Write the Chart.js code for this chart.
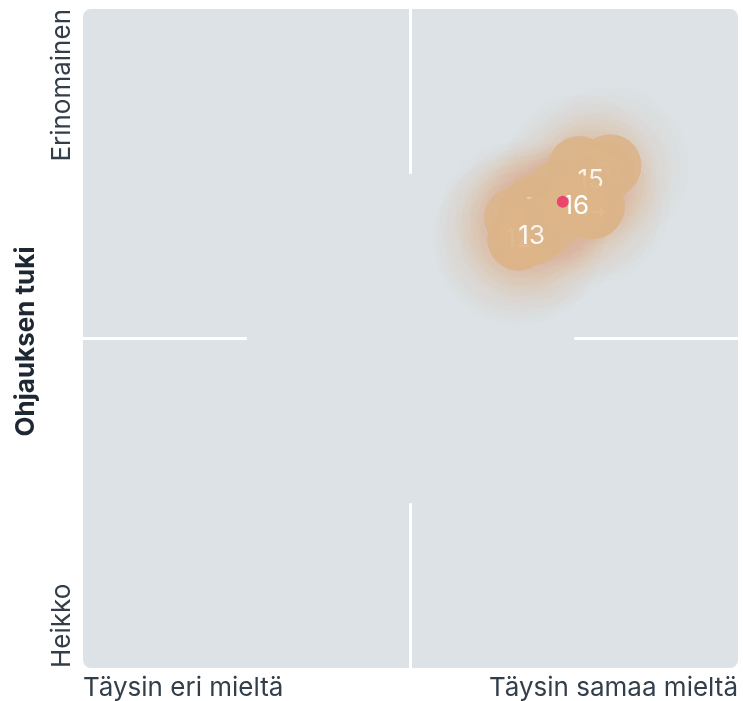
<!DOCTYPE html>
<html>
<head>
<meta charset="utf-8">
<script src="https://cdn.jsdelivr.net/npm/chart.js@4.4.1/dist/chart.umd.min.js"></script>
<style>
  html, body { margin: 0; padding: 0; background: #ffffff; }
  #wrap { width: 743px; height: 701px; }
</style>
</head>
<body>
<div id="wrap"><canvas id="chart"></canvas></div>
<script>
// axis texts
const xTickLabels = ["Täysin eri mieltä", "Täysin samaa mieltä"];
const yTickLabels = ["Heikko", "Erinomainen"];
const yTitle = "Ohjauksen tuki";
const scaleMin = 1;
const scaleMax = 5;

// bubbles (drawn in this order, last on top)
const bubbleLabels = ["1", "2", "3", "4", "5", "6", "7", "8", "9", "10", "11", "12", "13", "14", "15", "16"];
const bubbleX = [3.64, 3.66, 3.72, 4.22, 3.83, 3.90, 3.75, 4.03, 4.18, 4.12, 3.81, 3.66, 3.74, 4.11, 4.10, 4.01];
const bubbleY = [3.73, 3.60, 3.76, 4.05, 3.76, 3.89, 3.80, 4.04, 4.01, 3.80, 3.68, 3.61, 3.63, 3.79, 3.97, 3.81];
const bubbleSpread = [0.46, 0.52, 0.44, 0.48, 0.40, 0.42, 0.38, 0.44, 0.40, 0.46, 0.50, 0.50, 0.44, 0.42, 0.40, 0.38];

// group average
const meanX = [3.93];
const meanY = [3.83];

const textColor = "#333e4b";
const fontFamily = "Inter, 'Noto Sans', sans-serif";

const datasets = bubbleLabels.map((lab, i) => ({
    type: "bubble",
    label: lab,
    data: [{ x: bubbleX[i], y: bubbleY[i] }],
    spread: bubbleSpread[i],
    radius: 31,
    backgroundColor: "rgba(222, 181, 137, 0.93)",
    borderWidth: 0,
    order: bubbleLabels.length - i + 1,
}));

datasets.push({
    type: "scatter",
    label: "Keskiarvo",
    data: meanX.map((x, i) => ({ x: x, y: meanY[i] })),
    pointRadius: 6,
    backgroundColor: "#e9466d",
    borderWidth: 0,
    order: 0,
});

// rounded panel + partial white cross
const panelPlugin = {
    id: "panel",
    beforeDatasetsDraw(chart) {
        const { ctx, chartArea: a } = chart;
        ctx.save();
        ctx.fillStyle = "#dce2e5";
        ctx.beginPath();
        ctx.roundRect(a.left, a.top, a.right - a.left, a.bottom - a.top, 8);
        ctx.fill();

        const mid = (scaleMin + scaleMax) / 2;
        const cx = chart.scales.x.getPixelForValue(mid);
        const cy = chart.scales.y.getPixelForValue(mid);
        const qw = (a.right - a.left) / 4;
        const qh = (a.bottom - a.top) / 4;
        ctx.strokeStyle = "#ffffff";
        ctx.lineWidth = 3;
        ctx.beginPath();
        ctx.moveTo(cx, a.top);
        ctx.lineTo(cx, a.top + qh);
        ctx.moveTo(cx, a.bottom - qh);
        ctx.lineTo(cx, a.bottom);
        ctx.moveTo(a.left, cy);
        ctx.lineTo(a.left + qw, cy);
        ctx.moveTo(a.right - qw, cy);
        ctx.lineTo(a.right, cy);
        ctx.stroke();
        ctx.restore();
    },
};

// soft halo behind each bubble and its number on top
const bubblePlugin = {
    id: "bubbleHalo",
    beforeDatasetDraw(chart, args) {
        const ds = chart.data.datasets[args.index];
        if (ds.spread === undefined) return;
        const el = args.meta.data[0];
        const xs = chart.scales.x;
        const outer = Math.abs(xs.getPixelForValue(ds.data[0].x + ds.spread) - xs.getPixelForValue(ds.data[0].x));
        const inner = el.options.radius;
        const ctx = chart.ctx;
        ctx.save();
        ctx.fillStyle = "rgba(222, 180, 138, 0.028)";
        for (let k = 1; k <= 6; k++) {
            const rr = inner + (outer - inner) * k / 6;
            ctx.beginPath();
            ctx.arc(el.x, el.y, rr, 0, Math.PI * 2);
            ctx.fill();
        }
        ctx.restore();
    },
    afterDatasetDraw(chart, args) {
        const ds = chart.data.datasets[args.index];
        if (ds.spread === undefined) return;
        const el = args.meta.data[0];
        const ctx = chart.ctx;
        ctx.save();
        ctx.fillStyle = "#ffffff";
        ctx.font = "26px " + fontFamily;
        ctx.textAlign = "center";
        ctx.textBaseline = "middle";
        ctx.fillText(ds.label, el.x, el.y + 1);
        ctx.restore();
    },
};

// rotated y labels and title
const yTextPlugin = {
    id: "yText",
    afterDraw(chart) {
        const { ctx, chartArea: a } = chart;
        const ys = chart.scales.y;
        const yLow = ys.getPixelForValue(scaleMin);
        const yHigh = ys.getPixelForValue(scaleMax);
        ctx.save();
        ctx.fillStyle = textColor;
        ctx.textBaseline = "middle";
        ctx.font = "26px " + fontFamily;

        ctx.save();
        ctx.translate(62, yLow);
        ctx.rotate(-Math.PI / 2);
        ctx.textAlign = "left";
        ctx.fillText(yTickLabels[0], 0, 0);
        ctx.restore();

        ctx.save();
        ctx.translate(62, yHigh);
        ctx.rotate(-Math.PI / 2);
        ctx.textAlign = "right";
        ctx.fillText(yTickLabels[1], 0, 0);
        ctx.restore();

        ctx.save();
        ctx.fillStyle = "#1e2833";
        ctx.font = "bold 26px " + fontFamily;
        ctx.translate(26, (a.top + a.bottom) / 2 + 3);
        ctx.rotate(-Math.PI / 2);
        ctx.textAlign = "center";
        ctx.fillText(yTitle, 0, 0);
        ctx.restore();

        ctx.restore();
    },
};

new Chart(document.getElementById("chart"), {
    data: { datasets: datasets },
    options: {
        responsive: true,
        maintainAspectRatio: false,
        animation: false,
        layout: { autoPadding: false, padding: { top: 9, right: 2, left: 0, bottom: 0 } },
        plugins: {
            legend: { display: false },
            tooltip: { enabled: false },
        },
        scales: {
            x: {
                type: "linear",
                min: scaleMin,
                max: scaleMax,
                grid: { display: false, drawTicks: false },
                border: { display: false },
                afterBuildTicks: (scale) => {
                    scale.ticks = [{ value: scaleMin }, { value: scaleMax }];
                },
                afterFit: (scale) => {
                    scale.height = 33;
                },
                ticks: {
                    align: "inner",
                    maxRotation: 0,
                    padding: 5,
                    color: textColor,
                    font: { family: fontFamily, size: 26 },
                    callback: (v) => (v === scaleMin ? xTickLabels[0] : xTickLabels[1]),
                },
            },
            y: {
                type: "linear",
                min: scaleMin,
                max: scaleMax,
                grid: { display: false, drawTicks: false },
                border: { display: false },
                ticks: { display: false },
                afterFit: (scale) => {
                    scale.width = 83;
                },
            },
        },
    },
    plugins: [panelPlugin, bubblePlugin, yTextPlugin],
});
</script>
</body>
</html>
